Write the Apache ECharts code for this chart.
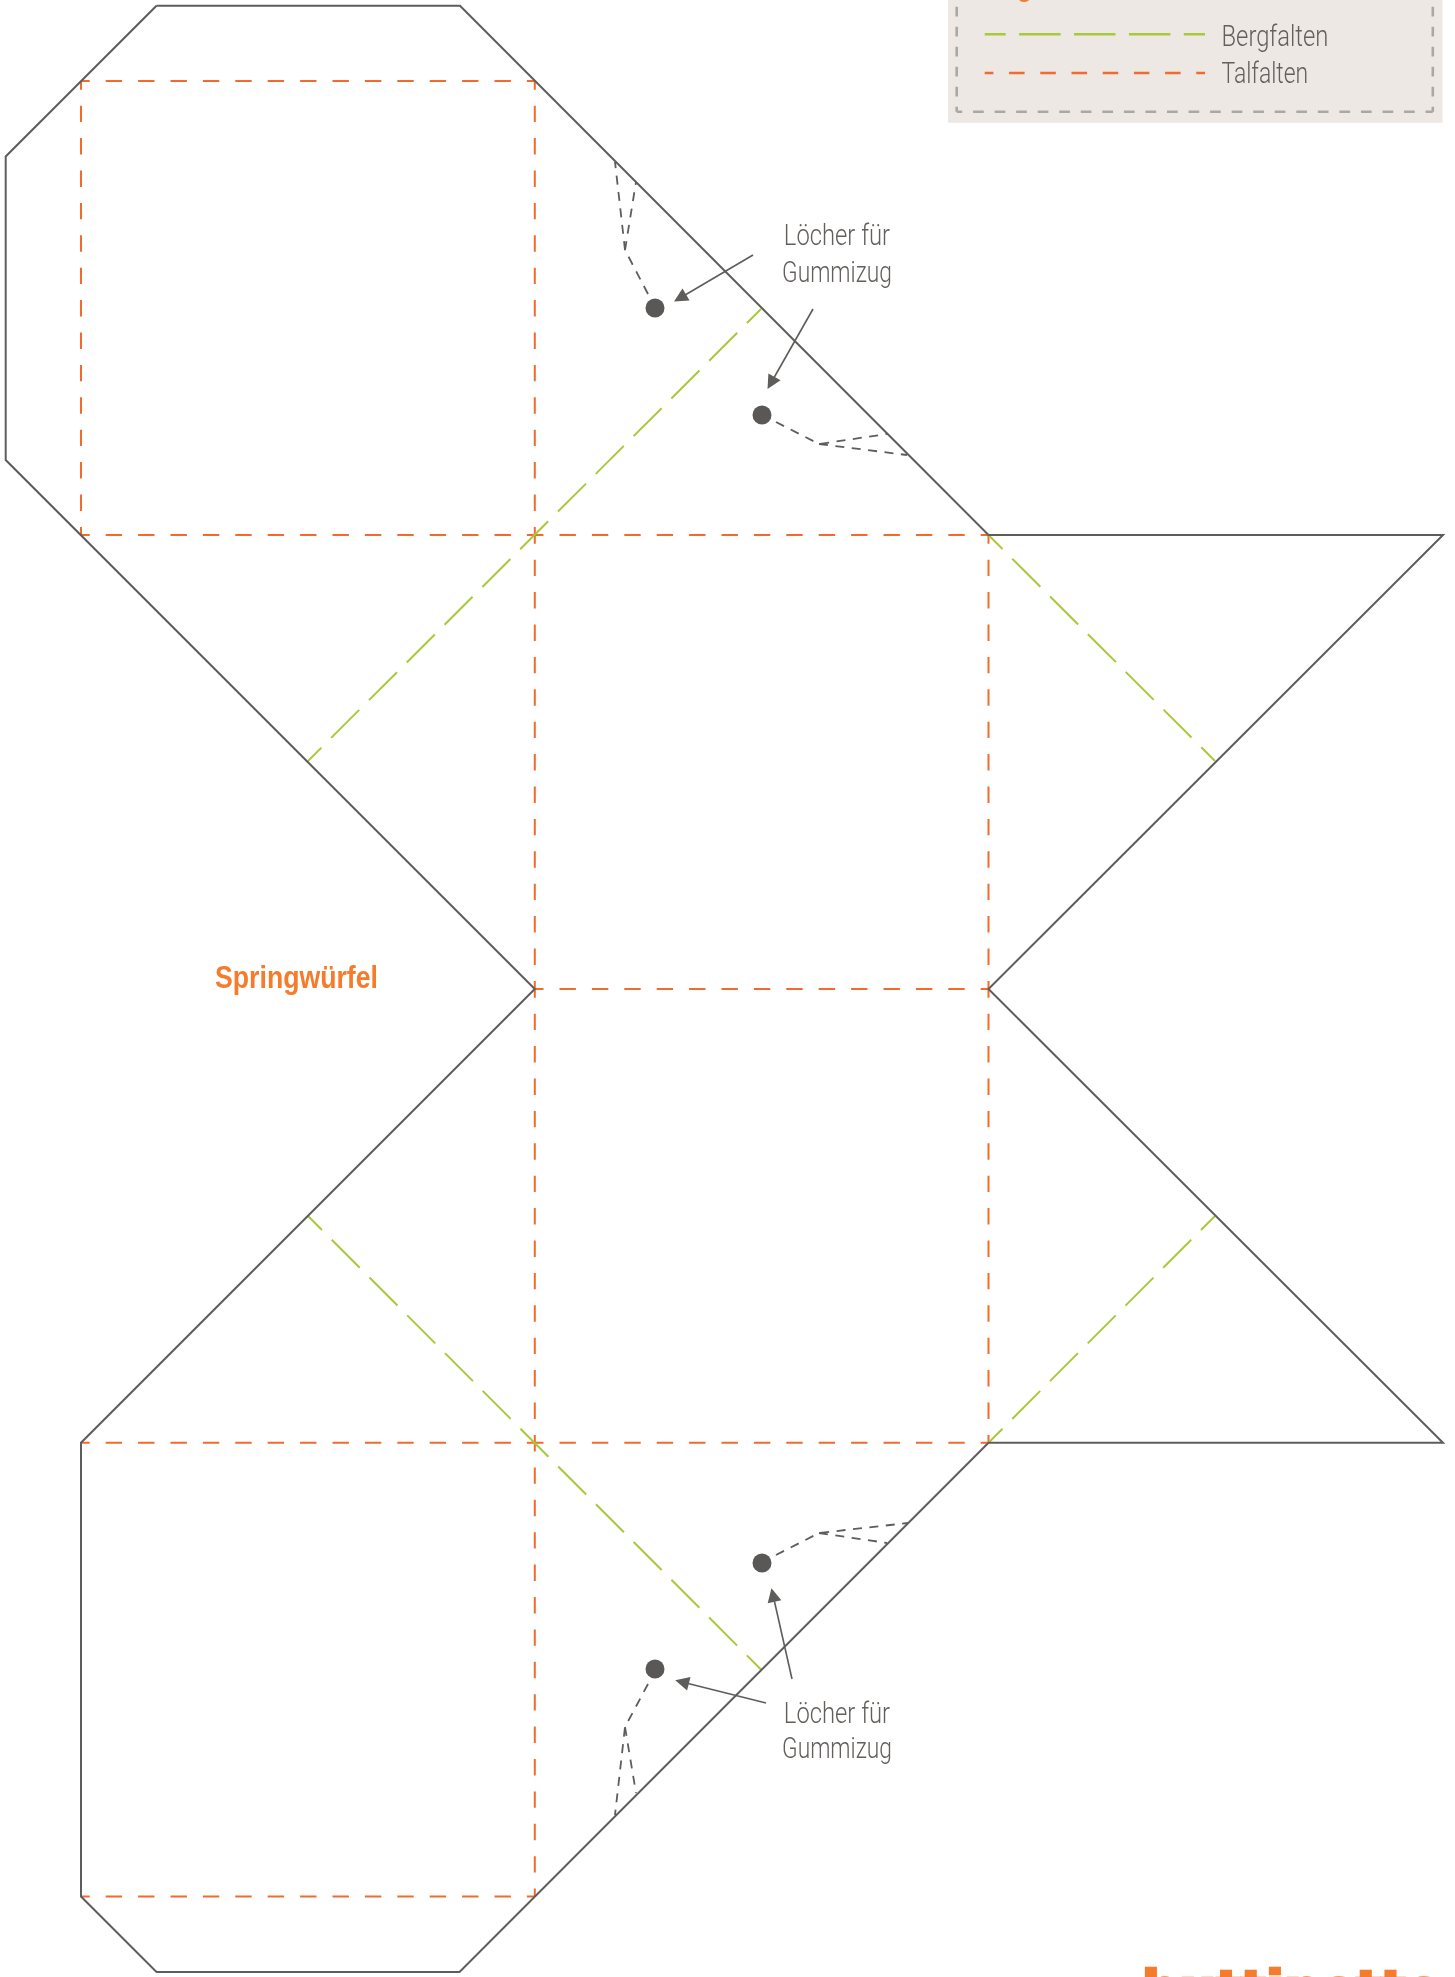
<!DOCTYPE html>
<html><head><meta charset="utf-8">
<style>html,body{margin:0;padding:0;background:#fff}#c{width:1455px;height:1977px}</style>
<script src="https://cdn.jsdelivr.net/npm/echarts@6/dist/echarts.min.js"></script>
</head><body><div id="c"></div>
<script>
// Pattern geometry
const cutOutline = [[156.5,5.7],[460,5.7],[988.5,535],[1443,535],[988.5,989],[1443,1442.7],[988.5,1442.7],[459.5,1972],[156.5,1972],[81,1896.5],[81,1442.7],[534.8,989],[5.7,460],[5.7,156.5],[156.5,5.7]];
const valleyFolds = [
 [[81,81],[534.8,81]],[[81,81],[81,535]],[[534.8,81],[534.8,535]],[[81,535],[534.8,535]],
 [[534.8,535],[988.5,535]],[[534.8,535],[534.8,989]],[[988.5,535],[988.5,989]],
 [[534.8,989],[988.5,989]],[[534.8,989],[534.8,1442.7]],[[988.5,989],[988.5,1442.7]],
 [[81,1442.7],[534.8,1442.7]],[[534.8,1442.7],[988.5,1442.7]],
 [[534.8,1442.7],[534.8,1896.5]],[[81,1896.5],[534.8,1896.5]]
];
const mountainFolds = [
 [[761,309],[308,761]],[[988.5,535],[1215,761]],[[988.5,1442.7],[1215,1216]],[[308,1216],[761,1669.5]]
];
const elasticGuides = [
 [[648,294],[625,250],[615,162]],[[625,250],[636,182]],
 [[776,422],[819,444],[887,434]],[[819,444],[907,455]],
 [[776,1555],[819,1533],[908,1523]],[[819,1533],[887,1543]],
 [[648,1684],[625,1727],[615,1815]],[[625,1727],[636,1793]]
];
const pointerArrows = [
 [[753,255],[680,298]],[[813,309],[771,383]],[[792,1679],[773,1595]],[[766,1703],[682,1682]]
];
const holes = [[655,308],[762,415],[762,1563],[655,1669]];
const legendPanel = [[948,-10],[1442.5,122.7]];
const legendBorderLeft = [[956.7,111.7],[956.7,-10]];
const legendBorderRight = [[1432.8,111.7],[1432.8,-10]];
const legendBorderBottom = [[956.7,111.7],[1432.8,111.7]];
const legendMountain = [[984.7,34.3],[1205,34.3]];
const legendValley = [[984.7,73],[1205,73]];
// text, x, y, horizontal condensing
const greyLabels = [
 ['Löcher für',837,237.8,0.82],['Gummizug',837,274.3,0.785],
 ['Löcher für',837,1715.8,0.82],['Gummizug',837,1750.8,0.785]
];
const legendLabels = [['Bergfalten',1221.5,39,0.82],['Talfalten',1221.5,76,0.79]];
const orangeLabels = [['Springwürfel',296.5,979,0.86]];
const legendTitle = [['Legende',987,-12.5,0.85]];
const logoText = [['buttinette',1142,1990,0.99]];

const GREY='#5e5d5b', ORANGE='#f26a2c', GREEN='#a9c93c', TEXT='#625f5c', BRAND='#f57c2c';
const LIGHT='Roboto,"Liberation Sans",sans-serif';
const BOLD='"Liberation Sans",sans-serif';

function segs(name,list,color,width,dash,offset){
  return {type:'lines',name,coordinateSystem:'cartesian2d',polyline:true,silent:true,
    clip:false,z:3,
    lineStyle:{color,width,type:dash||'solid',dashOffset:offset||0,opacity:1,cap:'butt',join:'miter'},
    data:list.map(c=>({coords:c}))};
}
function labels(name,list,color,size,weight,align,family,extra){
  const ex=extra||{};
  return {type:'custom',name,silent:true,clip:false,z:6,
    data:list.map(d=>[d[1],d[2]]),
    renderItem(p,api){
      const c=api.coord([api.value(0),api.value(1)]);
      return {type:'text',x:c[0],y:c[1],scaleX:list[p.dataIndex][3],scaleY:ex.scaleY||1,
        style:{text:list[p.dataIndex][0],fill:color,stroke:ex.stroke,lineWidth:ex.lineWidth||0,
          font:weight+' '+size+'px '+family,textAlign:align,textVerticalAlign:'middle'}};
    }};
}
const chart=echarts.init(document.getElementById('c'),null,{renderer:'canvas'});
chart.setOption({
  animation:false,backgroundColor:'#fff',
  grid:{left:0,right:0,top:0,bottom:0,containLabel:false},
  xAxis:{type:'value',min:0,max:1455,show:false},
  yAxis:{type:'value',min:0,max:1977,inverse:true,show:false},
  tooltip:{show:false},legend:{show:false},
  series:[
    {type:'scatter',name:'panel',data:[],silent:true,z:1,
     markArea:{silent:true,itemStyle:{color:'#ede8e4',opacity:1},
      data:[[{xAxis:legendPanel[0][0],yAxis:legendPanel[0][1]},{xAxis:legendPanel[1][0],yAxis:legendPanel[1][1]}]]}},
    segs('border',[legendBorderLeft,legendBorderRight],'#aba7a2',2.6,[9.7,10.3],4.7),
    segs('borderB',[legendBorderBottom],'#aba7a2',2.6,[10.7,10.85],5.2),
    segs('valley',valleyFolds,ORANGE,2,[16.4,16],7.7),
    segs('mountain',mountainFolds,GREEN,2,[39.6,13.8],19.8),
    segs('legendM',[legendMountain],GREEN,2.4,[41.5,13.4],20.5),
    segs('legendV',[legendValley],ORANGE,2.4,[15.5,15.7],6.8),
    segs('outline',[cutOutline],GREY,2),
    segs('guides',elasticGuides,GREY,1.8,[9,7.5],0),
    {type:'lines',name:'arrows',coordinateSystem:'cartesian2d',silent:true,clip:false,z:4,
     symbol:['none','triangle'],symbolSize:14,
     lineStyle:{color:GREY,width:1.6,opacity:1},
     data:pointerArrows.map(c=>({coords:c}))},
    {type:'scatter',name:'holes',silent:true,z:5,symbolSize:19,itemStyle:{color:'#5a5856',opacity:1},data:holes},
    labels('grey',greyLabels,TEXT,29,300,'center',LIGHT),
    labels('legendText',legendLabels,TEXT,29,300,'left',LIGHT),
    labels('title',orangeLabels,BRAND,31,'bold','center',BOLD),
    labels('legendTitle',legendTitle,BRAND,30,'bold','left',BOLD),
    labels('logo',logoText,BRAND,52.5,'bold','left','"DejaVu Sans"',{scaleY:0.8,stroke:BRAND,lineWidth:3})
  ]
});
</script></body></html>
